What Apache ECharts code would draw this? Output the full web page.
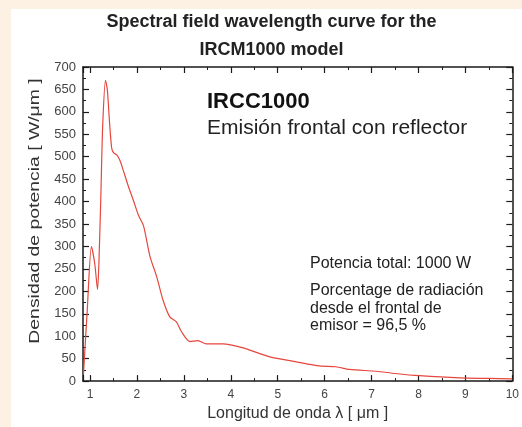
<!DOCTYPE html>
<html>
<head>
<meta charset="utf-8">
<script src="https://cdn.jsdelivr.net/npm/echarts@6/dist/echarts.min.js"></script>
<style>
html,body{margin:0;padding:0;background:#fdf1e4;}
#panel{position:absolute;left:11px;top:9px;width:511px;height:418px;background:#ffffff;}
#chart{position:absolute;left:0;top:0;width:522px;height:427px;}
</style>
</head>
<body>
<div id="panel"></div>
<div id="chart"></div>
<script>
// Data
const wavelength = [0.86, 0.94, 1.03, 1.10, 1.16, 1.20, 1.23, 1.27, 1.33, 1.37, 1.41, 1.46, 1.50, 1.57, 1.64, 1.71, 1.82, 1.92, 2.03, 2.14, 2.28, 2.42, 2.56, 2.70, 2.84, 2.95, 3.13, 3.30, 3.48, 3.83, 4.26, 4.83, 5.40, 5.89, 6.24, 6.53, 7.10, 7.50, 8.02, 8.87, 9.50, 10.0];
const density = [15, 157, 300, 262, 204, 300, 411, 570, 670, 648, 585, 520, 509, 504, 491, 469, 433, 404, 370, 346, 277, 233, 179, 143, 132, 110, 88, 90, 83, 83, 74, 54, 43, 34, 32, 26, 22, 17, 12, 7, 6, 5];
const titleLines = ['Spectral field wavelength curve for the', 'IRCM1000 model'];
const xAxisName = 'Longitud de onda \u03bb [ \u03bcm ]';
const yAxisName = 'Densidad de potencia [ W/\u03bcm ]';
const noteHeading = 'IRCC1000';
const noteSub = 'Emisi\u00f3n frontal con reflector';
const noteLines = ['Potencia total: 1000 W', 'Porcentage de radiaci\u00f3n', 'desde el frontal de', 'emisor = 96,5 %'];

const FONT = '"Liberation Sans", Arial, sans-serif';
const chart = echarts.init(document.getElementById('chart'), null, {renderer: 'canvas'});

const axisLineStyle = {color: '#1a1a1a', width: 1.5};
function xAx(pos, showLabel) {
  return {
    type: 'value', position: pos, min: 0.85, max: 10, minInterval: 1, maxInterval: 1,
    axisLine: {show: true, onZero: false, lineStyle: axisLineStyle},
    axisTick: {show: true, inside: true, length: 6, lineStyle: {color: '#1a1a1a', width: 1.2}},
    minorTick: {show: true, splitNumber: 2, length: 3, lineStyle: {color: '#1a1a1a', width: 1}},
    splitLine: {show: false},
    axisLabel: {show: showLabel, fontSize: 12, color: '#444', fontFamily: FONT, margin: 8,
      formatter: v => (Math.abs(v - Math.round(v)) < 1e-6 ? String(Math.round(v)) : '')},
    name: showLabel ? xAxisName : '', nameLocation: 'middle', nameGap: 23,
    nameTextStyle: {fontSize: 16, color: '#333', fontFamily: FONT}
  };
}
function yAx(pos, showLabel) {
  return {
    type: 'value', position: pos, min: 0, max: 700, interval: 50,
    axisLine: {show: true, onZero: false, lineStyle: axisLineStyle},
    axisTick: {show: true, inside: true, length: 6, lineStyle: {color: '#1a1a1a', width: 1.2}},
    minorTick: {show: true, splitNumber: 2, length: 3, lineStyle: {color: '#1a1a1a', width: 1}},
    splitLine: {show: false},
    axisLabel: {show: showLabel, fontSize: 13, color: '#444', fontFamily: FONT, margin: 7}
  };
}

function txt(text, x, y, size, weight, color, align) {
  return {type: 'text', x: x, y: y, silent: true,
    style: {text: text, font: weight + ' ' + size + 'px ' + FONT, fill: color,
      textAlign: align || 'left', align: align || 'left', textVerticalAlign: 'middle', verticalAlign: 'middle'}};
}

const option = {
  animation: false,
  grid: {left: 83, right: 9, top: 67, bottom: 38, containLabel: false},
  xAxis: [xAx('bottom', true), xAx('top', false)],
  yAxis: [yAx('left', true), yAx('right', false)],
  series: [{
    type: 'line', xAxisIndex: 0, yAxisIndex: 0,
    data: wavelength.map((w, i) => [w, density[i]]),
    showSymbol: false, symbol: 'none', smooth: 0.25,
    lineStyle: {color: '#e5473d', width: 1.2}
  }],
  graphic: [
    txt(titleLines[0], 271.5, 22, 18, 'bold', '#222', 'center'),
    txt(titleLines[1], 271.5, 50, 18, 'bold', '#222', 'center'),
    txt(noteHeading, 207, 102, 22, 'bold', '#111', 'left'),
    txt(noteSub, 207, 128, 21, 'normal', '#222', 'left'),
    txt(noteLines[0], 310, 264, 16, 'normal', '#222', 'left'),
    txt(noteLines[1], 310, 291, 16, 'normal', '#222', 'left'),
    txt(noteLines[2], 310, 308.5, 16, 'normal', '#222', 'left'),
    txt(noteLines[3], 310, 326, 16, 'normal', '#222', 'left'),
    Object.assign(txt(yAxisName, 35, 211, 15.5, 'normal', '#333', 'center'), {rotation: Math.PI / 2, scaleX: 1.25})
  ]
};
chart.setOption(option);
</script>
</body>
</html>
